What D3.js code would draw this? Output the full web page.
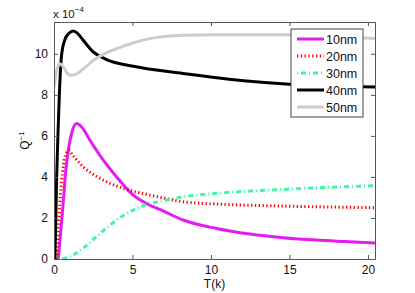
<!DOCTYPE html>
<html>
<head>
<meta charset="utf-8">
<script src="https://cdn.jsdelivr.net/npm/d3@7"></script>
<style>
  body { margin: 0; background: #fff; }
  svg { font-family: "Liberation Sans", Arial, sans-serif; }
  .tk text { font-size: 12px; fill: #111; }
</style>
</head>
<body>
<div id="chart"></div>
<script>
// values are Q^-1 in units of 1e-4
var names = ["10nm", "20nm", "30nm", "40nm", "50nm"];
var t10 = [0.27, 0.45, 0.6, 0.75, 0.91, 1.15, 1.44, 1.8, 2.29, 3.14, 3.99, 5.05, 6.1, 6.74, 8.22, 10.35, 12.47, 14.59, 16.7, 18.5, 20.45];
var q10 = [0, 1.5, 2.87, 4.3, 5.3, 6.2, 6.6, 6.4, 5.79, 4.82, 4.0, 3.11, 2.63, 2.42, 1.9, 1.49, 1.22, 1.04, 0.92, 0.85, 0.78];
var t20 = [0.17, 0.3, 0.45, 0.6, 0.75, 0.91, 1.2, 1.86, 2.93, 4.41, 6.1, 8.22, 10.35, 14.6, 20.45];
var q20 = [0, 1.8, 3.5, 4.6, 5.1, 5.3, 5.05, 4.49, 3.93, 3.44, 3.12, 2.79, 2.68, 2.58, 2.5];
var t30 = [0.27, 0.6, 1.02, 1.4, 1.86, 2.4, 2.93, 3.5, 3.99, 5.05, 6.1, 6.74, 8.22, 10.35, 12.47, 14.59, 16.7, 20.45];
var q30 = [0, 0.02, 0.11, 0.28, 0.52, 0.88, 1.25, 1.6, 1.9, 2.38, 2.7, 2.8, 3.03, 3.2, 3.31, 3.39, 3.47, 3.57];
var t40 = [0.06, 0.17, 0.25, 0.34, 0.49, 0.7, 0.95, 1.23, 1.5, 1.86, 2.5, 3.35, 5.05, 8.22, 12.47, 15, 20.45];
var q40 = [0, 4, 6, 8, 10, 10.7, 11.0, 11.11, 11.0, 10.66, 10.09, 9.72, 9.39, 9.04, 8.66, 8.52, 8.38];
var t50 = [0, 0.15, 0.38, 0.6, 0.85, 1.13, 1.5, 2, 2.5, 3.2, 3.99, 5, 6.1, 8.22, 10.35, 14.6, 17.5, 20.45];
var q50 = [8.38, 9.1, 9.52, 9.35, 9.05, 8.95, 9.05, 9.35, 9.68, 10.0, 10.25, 10.52, 10.74, 10.9, 10.93, 10.93, 10.85, 10.74];
var xTicks = [0, 5, 10, 15, 20];
var yTicks = [0, 2, 4, 6, 8, 10];

var series = [
  {name: names[0], t: t10, q: q10, color: "#e31cf2", dash: null},
  {name: names[1], t: t20, q: q20, color: "#ff0000", dash: "1.3,2.5"},
  {name: names[2], t: t30, q: q30, color: "#40f5a5", dash: "1,3,5,3"},
  {name: names[3], t: t40, q: q40, color: "#000000", dash: null},
  {name: names[4], t: t50, q: q50, color: "#cccccc", dash: null}
];

var margin = {top: 22, right: 40, bottom: 34, left: 54};
var W = 415, H = 293;
var width = W - margin.left - margin.right;
var height = H - margin.top - margin.bottom;

var svg = d3.select("#chart").append("svg").attr("width", W).attr("height", H);
var g = svg.append("g").attr("transform", "translate(" + margin.left + "," + margin.top + ")");

var x = d3.scaleLinear().domain([0, 20.45]).range([0, width]);
var y = d3.scaleLinear().domain([0, 11.55]).range([height, 0]);

g.append("clipPath").attr("id", "clip").append("rect")
  .attr("width", width).attr("height", height);

var line = d3.line()
  .x(function(d) { return x(d[0]); })
  .y(function(d) { return y(d[1]); })
  .curve(d3.curveMonotoneX);

var plot = g.append("g").attr("clip-path", "url(#clip)");
series.forEach(function(s) {
  var pts = s.t.map(function(v, i) { return [v, s.q[i]]; });
  plot.append("path")
    .datum(pts)
    .attr("d", line)
    .attr("fill", "none")
    .attr("stroke", s.color)
    .attr("stroke-width", 3)
    .attr("stroke-dasharray", s.dash)
    .attr("stroke-linejoin", "round");
});

// axes with inward ticks, mirrored on top and right
function box(sel) { sel.select(".domain").attr("stroke", "#555"); sel.selectAll(".tick line").attr("stroke", "#555"); }
g.append("g").attr("class", "tk").attr("transform", "translate(0," + height + ")")
  .call(d3.axisBottom(x).tickValues(xTicks).tickSizeInner(-4).tickSizeOuter(0).tickPadding(6))
  .call(box);
g.append("g").attr("class", "tk")
  .call(d3.axisTop(x).tickValues(xTicks).tickSizeInner(-4).tickSizeOuter(0).tickFormat(""))
  .call(box);
g.append("g").attr("class", "tk")
  .call(d3.axisLeft(y).tickValues(yTicks).tickSizeInner(-4).tickSizeOuter(0).tickPadding(6))
  .call(box);
g.append("g").attr("class", "tk").attr("transform", "translate(" + width + ",0)")
  .call(d3.axisRight(y).tickValues(yTicks).tickSizeInner(-4).tickSizeOuter(0).tickFormat(""))
  .call(box);

// labels
svg.append("text").attr("x", margin.left + width / 2).attr("y", 288)
  .attr("text-anchor", "middle").attr("font-size", 12).attr("fill", "#111").text("T(k)");
var yl = svg.append("text").attr("transform", "translate(29," + (margin.top + height / 2) + ") rotate(-90)")
  .attr("text-anchor", "middle").attr("font-size", 12).attr("fill", "#111");
yl.append("tspan").text("Q");
yl.append("tspan").attr("dy", -5).attr("font-size", 8).text("−1");
var ex = svg.append("text").attr("x", 53).attr("y", 18).attr("font-size", 11.5).attr("fill", "#111");
ex.append("tspan").text("x 10");
ex.append("tspan").attr("dy", -6).attr("font-size", 8).text("−4");

// legend
var lg = svg.append("g").attr("transform", "translate(291,29)");
lg.append("rect").attr("width", 72).attr("height", 88)
  .attr("fill", "#fff").attr("stroke", "#444").attr("stroke-width", 1);
series.forEach(function(s, i) {
  var yy = 10 + i * 17;
  lg.append("line").attr("x1", 6).attr("x2", 33).attr("y1", yy).attr("y2", yy)
    .attr("stroke", s.color).attr("stroke-width", 3).attr("stroke-dasharray", s.dash);
  lg.append("text").attr("x", 35).attr("y", yy + 4.5).attr("font-size", 12.5).attr("fill", "#111").text(s.name);
});
</script>
</body>
</html>
